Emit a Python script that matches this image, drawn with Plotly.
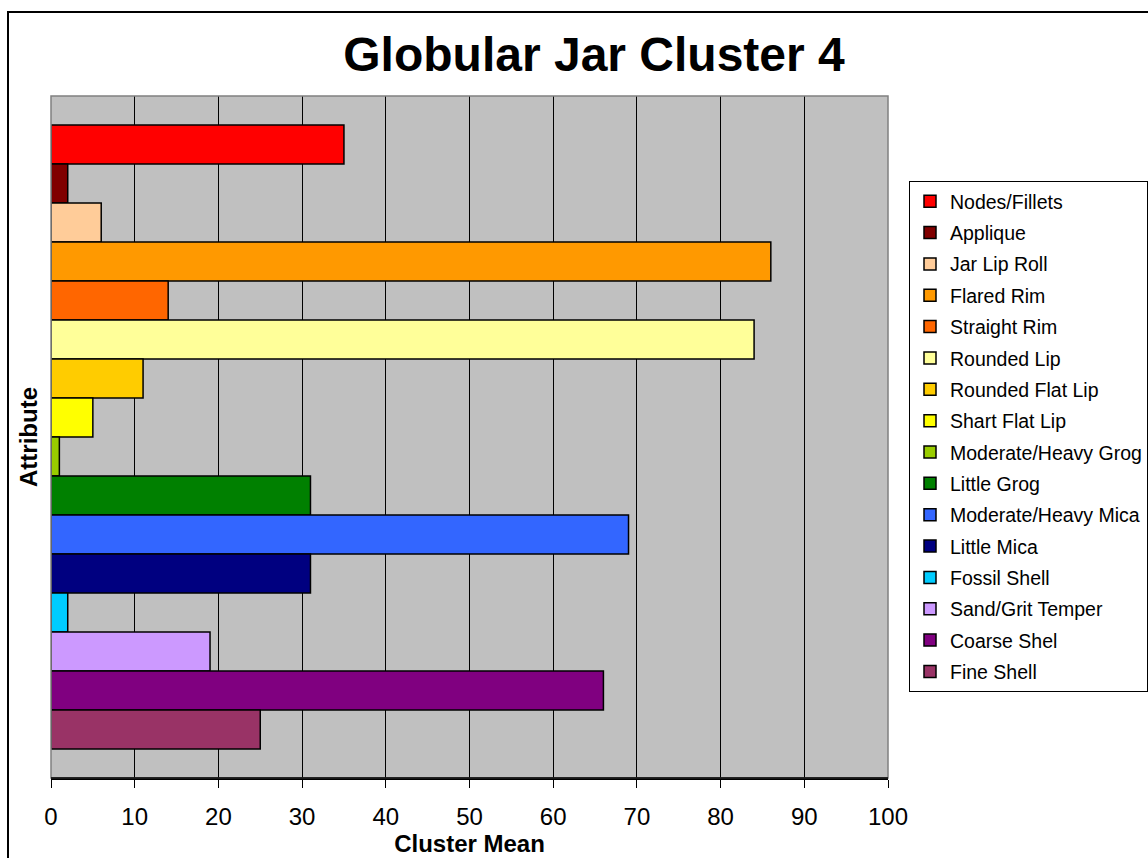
import plotly.graph_objects as go

# Attribute names (top-to-bottom as drawn) and their cluster means
attributes = [
    "Nodes/Fillets", "Applique", "Jar Lip Roll", "Flared Rim", "Straight Rim",
    "Rounded Lip", "Rounded Flat Lip", "Shart Flat Lip", "Moderate/Heavy Grog",
    "Little Grog", "Moderate/Heavy Mica", "Little Mica", "Fossil Shell",
    "Sand/Grit Temper", "Coarse Shel", "Fine Shell",
]
cluster_means = [35, 2, 6, 86, 14, 84, 11, 5, 1, 31, 69, 31, 2, 19, 66, 25]
bar_colors = [
    "#FF0000", "#800000", "#FFCC99", "#FF9900", "#FF6600",
    "#FFFF99", "#FFCC00", "#FFFF00", "#99CC00", "#008000",
    "#3366FF", "#000080", "#00CCFF", "#CC99FF", "#800080", "#993366",
]
x_ticks = list(range(0, 101, 10))

FONT = "Arial, Liberation Sans, sans-serif"
W, H = 1148, 858
L, R, T, B = 51, 260, 96, 80
PW, PH = W - L - R, H - T - B


def px_x(p):
    return (p - L) / PW


def px_y(p):
    return (H - B - p) / PH


fig = go.Figure()
# y axis is reversed, so the first trace sits at the top of the group
for name, val, col in zip(attributes, cluster_means, bar_colors):
    fig.add_trace(go.Bar(
        x=[val], y=[0], orientation="h", name=name, legendgroup=name,
        marker=dict(color=col, line=dict(color="black", width=1.5)),
    ))

fig.update_layout(
    width=W, height=H,
    margin=dict(l=L, r=R, t=T, b=B, autoexpand=False),
    paper_bgcolor="white", plot_bgcolor="#C0C0C0",
    font=dict(family=FONT, color="black"),
    barmode="group", bargap=0.085, bargroupgap=0,
    title=dict(text="<b>Globular Jar Cluster 4</b>", font=dict(size=48, family=FONT),
               x=594 / W, xanchor="center", xref="container",
               y=1 - 54 / H, yanchor="middle", yref="container"),
    legend=dict(
        x=px_x(909), xanchor="left", y=px_y(181), yanchor="top",
        bgcolor="white", bordercolor="black", borderwidth=1,
        font=dict(size=19.5, family=FONT), traceorder="grouped",
        tracegroupgap=3,
    ),
    showlegend=True,
)

fig.update_xaxes(
    range=[0, 100], tickvals=x_ticks, ticks="outside", ticklen=8,
    tickcolor="black", tickfont=dict(size=24, family=FONT),
    ticklabelstandoff=8,
    showgrid=True, gridcolor="black", gridwidth=1, zeroline=False,
    showline=True, linecolor="black", linewidth=1.5,
    title=dict(text="<b>Cluster Mean</b>", font=dict(size=24, family=FONT), standoff=2),
)
fig.update_yaxes(
    range=[0.5, -0.5], showticklabels=False, showgrid=False, zeroline=False,
    ticks="", showline=False,
    title=dict(text="<b>Attribute</b>", font=dict(size=24, family=FONT), standoff=5),
)

# Plot-area border and outer page frame
fig.add_shape(type="rect", xref="paper", yref="paper", x0=0, x1=1, y0=0, y1=1,
              line=dict(color="#808080", width=1.5), layer="above")
fig.add_shape(type="line", xref="paper", yref="paper", x0=0, x1=1, y0=0, y1=0,
              line=dict(color="black", width=1.5), layer="above")
fig.add_shape(type="rect", xref="paper", yref="paper",
              x0=px_x(8), x1=px_x(1160), y0=px_y(880), y1=px_y(12),
              line=dict(color="black", width=2))

# Page number peeking in at the top-right corner
fig.add_annotation(text="<b>11</b>", xref="paper", yref="paper",
                   x=px_x(1128), y=px_y(4), xanchor="center", yanchor="bottom",
                   showarrow=False, font=dict(size=20, family=FONT))

fig.write_html("out.html")
